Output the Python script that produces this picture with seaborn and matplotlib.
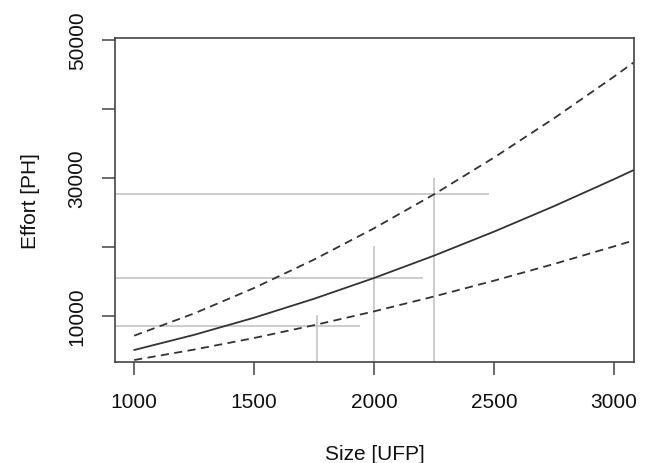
import numpy as np
import pandas as pd
import matplotlib
matplotlib.use("Agg")
import matplotlib.pyplot as plt
import seaborn as sns

# --- data ---
size_ufp = [1000, 1250, 1500, 1750, 2000, 2250, 2500, 2750, 3000, 3080]
effort_fit = [5070, 7270, 9750, 12500, 15510, 18750, 22230, 25920, 29830, 31120]
effort_upper = [7145, 10370, 14060, 18180, 22720, 27640, 32970, 38660, 44700, 46710]
effort_lower = [3620, 5130, 6810, 8670, 10670, 12830, 15120, 17540, 20090, 20930]

# grey guide segments: crossing point, end of horizontal, top of vertical
guide_x = [1760, 2000, 2250]
guide_y = [8550, 15510, 27640]
guide_h_end = [1942, 2204, 2479]
guide_v_top = [10100, 20100, 30000]

x_ticks = [1000, 1500, 2000, 2500, 3000]
y_ticks = [10000, 20000, 30000, 40000, 50000]
y_labels = ['10000', '', '30000', '', '50000']

sns.set_style('ticks')
plt.rcParams['font.family'] = ['Liberation Sans', 'DejaVu Sans']

df = pd.DataFrame({'size': size_ufp, 'fit': effort_fit,
                   'upper': effort_upper, 'lower': effort_lower})

fig = plt.figure(figsize=(6.51, 4.64), dpi=100)
ax = fig.add_axes([115 / 651, 1 - 363 / 464, 519 / 651, 324 / 464])

line_col = '#333333'
guide_col = '#c8c8c8'

ax.hlines(guide_y, 0, guide_h_end, color=guide_col, lw=1.3, zorder=1)
ax.vlines(guide_x, 0, guide_v_top, color=guide_col, lw=1.3, zorder=1)

sns.lineplot(data=df, x='size', y='fit', ax=ax, color=line_col, lw=1.3, zorder=3)
for col in ['upper', 'lower']:
    sns.lineplot(data=df, x='size', y=col, ax=ax, color=line_col, lw=1.3,
                 dashes=False, zorder=3).lines[-1].set_dashes((4.5, 3))

ax.set_xlim(920, 3083)
ax.set_ylim(3330, 50290)
ax.set_xticks(x_ticks)
ax.set_yticks(y_ticks)
ax.set_yticklabels(y_labels, rotation=90, va='center')
ax.tick_params(direction='out', length=9.4, width=1.1, color='#444444',
               labelsize=15, labelcolor='#111111')
ax.tick_params(axis='x', pad=12)
ax.tick_params(axis='y', pad=11)

for s in ax.spines.values():
    s.set_color('#444444')
    s.set_linewidth(1.2)

ax.set_xlabel('Size [UFP]', fontsize=15, labelpad=24, color='#111111')
ax.set_ylabel('Effort [PH]', fontsize=15, labelpad=20, color='#111111')

fig.savefig('out.png', dpi=100)
